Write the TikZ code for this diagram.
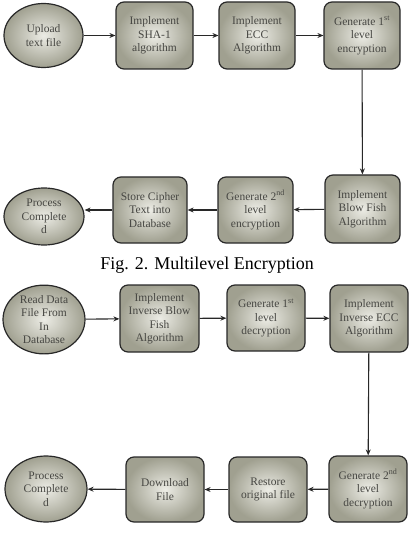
\documentclass[tikz,border=0pt]{standalone}
\usepackage{fontspec}
\setmainfont{Liberation Serif}
\usetikzlibrary{shapes.geometric,arrows.meta}
\definecolor{boxin}{RGB}{236,236,229}
\definecolor{boxout}{RGB}{160,160,144}
\definecolor{edgec}{RGB}{40,40,40}
\definecolor{txtc}{RGB}{70,70,66}
\tikzset{
  base/.style={draw=edgec, line width=1.2pt, inner color=boxin, outer color=boxout,
    align=center, text=txtc, font=\fontsize{11.5}{13.5}\selectfont, inner sep=1pt},
  stepbox/.style={base, rounded corners=8pt},
  ellbox/.style={base, ellipse, inner sep=0pt},
  conn/.style={draw=edgec, line width=1.1pt, -{Stealth[length=6pt,width=5pt]}}
}
\begin{document}
\begin{tikzpicture}[x=1pt,y=1pt]
\useasboundingbox (0,0) rectangle (409,-537);
% Row 1
\node[ellbox, minimum width=79pt, minimum height=64pt] (e1) at (43.5,-35.5) {Upload\\text file};
\node[stepbox, minimum width=77pt, minimum height=67pt] (b1) at (154.5,-35.5) {Implement\\SHA-1\\algorithm};
\node[stepbox, minimum width=76pt, minimum height=67pt] (b2) at (257,-35.5) {Implement\\ECC\\Algorithm};
\node[stepbox, minimum width=76pt, minimum height=67pt] (b3) at (362,-35.5) {Generate 1\textsuperscript{st}\\level\\encryption};
% Row 2
\node[stepbox, minimum width=75pt, minimum height=68pt] (b6) at (362.5,-209) {Implement\\Blow Fish\\Algorithm};
\node[stepbox, minimum width=75pt, minimum height=66pt] (b5) at (255.5,-210) {Generate 2\textsuperscript{nd}\\level\\encryption};
\node[stepbox, minimum width=74pt, minimum height=66pt] (b4) at (150,-210) {Store Cipher\\Text into\\Database};
\node[ellbox, minimum width=80pt, minimum height=57pt] (e2) at (44,-216.5) {Process\\Complete\\d};
% Caption
\node[font=\fontsize{18}{21}\selectfont, text=black] (cap) at (207,-265) {Fig. 2. Multilevel Encryption};
% Row 3
\node[ellbox, minimum width=82pt, minimum height=65pt] (e3) at (44,-319.5) {Read Data\\File From\\In\\Database};
\node[stepbox, minimum width=79pt, minimum height=67pt] (b7) at (159.5,-318.5) {Implement\\Inverse Blow\\Fish\\Algorithm};
\node[stepbox, minimum width=78pt, minimum height=66pt] (b8) at (266,-318) {Generate 1\textsuperscript{st}\\level\\decryption};
\node[stepbox, minimum width=78pt, minimum height=67pt] (b9) at (369,-318.5) {Implement\\Inverse ECC\\Algorithm};
% Row 4
\node[stepbox, minimum width=78pt, minimum height=66pt] (b12) at (368,-489) {Generate 2\textsuperscript{nd}\\level\\decryption};
\node[stepbox, minimum width=78pt, minimum height=65pt] (b11) at (268,-489.5) {Restore\\original file};
\node[stepbox, minimum width=78pt, minimum height=65pt] (b10) at (165,-489.5) {Download\\File};
\node[ellbox, minimum width=82pt, minimum height=66pt] (e4) at (46,-489) {Process\\Complete\\d};
% Connectors
\draw[conn] (e1) -- (b1);
\draw[conn] (b1) -- (b2);
\draw[conn] (b2) -- (b3);
\draw[conn] (b3) -- (b6);
\draw[conn] (b6) -- (b5);
\draw[conn] (b5) -- (b4);
\draw[conn] (b4) -- (e2.east |- b4.west);
\draw[conn] (e3) -- (b7);
\draw[conn] (b7) -- (b8);
\draw[conn] (b8) -- (b9);
\draw[conn] (b9) -- (b12);
\draw[conn] (b12) -- (b11);
\draw[conn] (b11) -- (b10);
\draw[conn] (b10) -- (e4);
\end{tikzpicture}
\end{document}
